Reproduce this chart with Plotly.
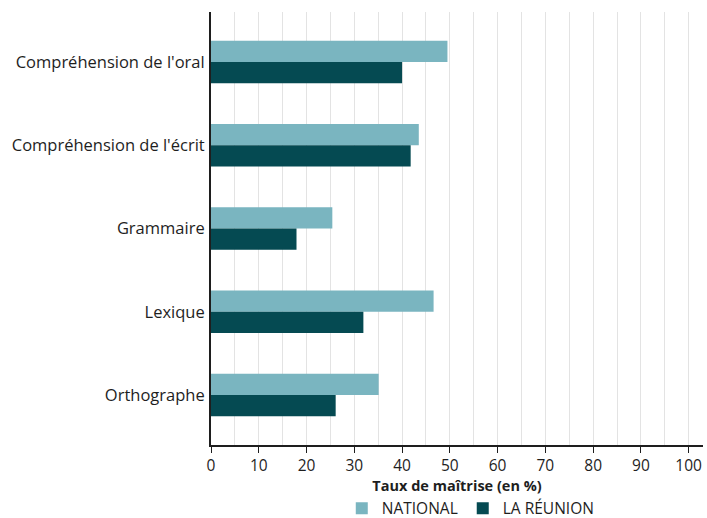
import plotly.graph_objects as go

categories = ["Compréhension de l'oral", "Compréhension de l'écrit", "Grammaire", "Lexique", "Orthographe"]
national = [49.5, 43.5, 25.4, 46.6, 35.1]
reunion = [40.0, 41.8, 17.9, 31.9, 26.1]
x_ticks = list(range(0, 101, 10))

FONT = "Open Sans"

fig = go.Figure()
fig.add_trace(go.Bar(y=categories, x=national, orientation="h", name="NATIONAL",
                     marker=dict(color="#7ab5c0", line=dict(width=0))))
fig.add_trace(go.Bar(y=categories, x=reunion, orientation="h", name="LA RÉUNION",
                     marker=dict(color="#054a52", line=dict(width=0))))

fig.update_layout(
    width=707, height=518,
    margin=dict(l=211, r=4, t=12, b=73, autoexpand=False),
    paper_bgcolor="white", plot_bgcolor="white",
    barmode="group", bargap=0.49, bargroupgap=0,
    font=dict(family=FONT, size=16, color="#1e1e1e"),
    legend=dict(orientation="h", x=0.528, xanchor="center", y=-0.147, yanchor="middle",
                font=dict(size=15.5), traceorder="normal", itemwidth=30,
                tracegroupgap=0),
    showlegend=True,
)
fig.update_xaxes(
    range=[0, 103], tickvals=x_ticks, ticktext=[str(v) for v in x_ticks],
    showgrid=True, gridcolor="#e3e3e3", gridwidth=1,
    minor=dict(dtick=5, showgrid=True, gridcolor="#e3e3e3", gridwidth=1),
    showline=True, linecolor="#1e1e1e", linewidth=1.5,
    ticks="outside", ticklen=6, tickcolor="#1e1e1e",
    tickfont=dict(size=15.5),
    zeroline=False, automargin=False,
    title=dict(text="<b>Taux de maîtrise (en %)</b>", font=dict(size=14.5), standoff=6),
)
fig.update_yaxes(
    categoryorder="array", categoryarray=categories,
    range=[4.6, -0.6], autorange=False, automargin=False,
    showline=True, linecolor="#1e1e1e", linewidth=2,
    ticks="", ticklabelstandoff=1, showgrid=False,
    tickfont=dict(size=16.5),
)

fig.write_html("out.html")
